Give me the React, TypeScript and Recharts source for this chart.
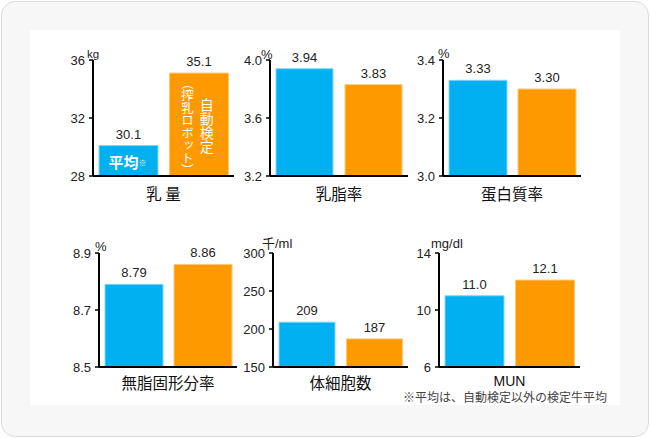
import { Bar, BarChart, Cell, LabelList, XAxis, YAxis } from 'recharts';

const NUM_FONT = '"Liberation Sans", Arial, "Noto Sans CJK JP", sans-serif';
const JP_FONT = '"Noto Sans CJK JP", "Liberation Sans", sans-serif';

// 平均 (blue) vs 自動検定 (orange)
const GROUPS = ['平均', '自動検定'];
const COLORS = ['#00b0f0', '#ff9900'];
const EDGES = ['#7fd7f7', '#ffc873'];

const milkYield = [30.1, 35.1];
const milkFat = [3.94, 3.83];
const milkProtein = [3.33, 3.3];
const solidsNotFat = [8.79, 8.86];
const somaticCells = [209, 187];
const mun = [11.0, 12.1];

const yieldTicks = [28, 32, 36];
const fatTicks = [3.2, 3.6, 4.0];
const proteinTicks = [3.0, 3.2, 3.4];
const snfTicks = [8.5, 8.7, 8.9];
const sccTicks = [150, 200, 250, 300];
const munTicks = [6, 10, 14];

const FOOTNOTE = '※平均は、自動検定以外の検定牛平均';

const YW = 40;
const MT = 30;
const MR = 4;
const XH = 30;

// white text drawn inside the two 乳量 bars
function InsideLabel(props: any) {
  const x = Number(props.x);
  const y = Number(props.y);
  const width = Number(props.width);
  const height = Number(props.height);
  if (props.index === 0) {
    return (
      <text
        x={x + width / 2 - 1}
        y={y + height / 2 + 1}
        textAnchor="middle"
        dominantBaseline="central"
        fill="#fff"
        fontWeight="bold"
        fontSize={15}
        fontFamily={JP_FONT}
      >
        平均<tspan fontSize={8} fontWeight="normal">※</tspan>
      </text>
    );
  }
  return (
    <g fill="#fff" fontFamily={JP_FONT}>
      <text x={x + width * 0.63} y={y + 25} fontSize={14} style={{ writingMode: 'vertical-rl' }}>
        自動検定
      </text>
      <text
        x={x + 18}
        y={y + 10}
        fontSize={12.5}
        style={{ writingMode: 'vertical-rl', fontFeatureSettings: '"vhal"' }}
      >
        （搾乳ロボット）
      </text>
    </g>
  );
}

interface PanelProps {
  title: string;
  unit: string;
  values: number[];
  ticks: number[];
  tickDigits: number;
  valueDigits: number;
  axisX: number;
  top: number;
  bottom: number;
  right: number;
  barSize: number;
  unitDx: number;
  unitDy: number;
  titleDy: number;
  inside?: boolean;
}

function Panel(p: PanelProps) {
  const data = GROUPS.map((g, i) => ({ group: g, v: p.values[i] }));
  const plotW = p.right - p.axisX;
  const plotH = p.bottom - p.top;
  return (
    <div style={{ position: 'absolute', left: p.axisX - YW, top: p.top - MT }}>
      <BarChart
        width={YW + plotW + MR}
        height={MT + plotH + XH}
        data={data}
        margin={{ top: MT, right: MR, left: 0, bottom: 0 }}
        barSize={p.barSize}
      >
        <XAxis
          dataKey="group"
          tick={false}
          tickLine={false}
          height={XH}
          axisLine={{ stroke: '#000', strokeWidth: 2 }}
          label={(lp: any) => {
            const vb = lp.viewBox;
            return (
              <text
                x={vb.x + vb.width / 2}
                y={vb.y + p.titleDy}
                textAnchor="middle"
                dominantBaseline="central"
                fontSize={p.title === 'MUN' ? 14 : 15.5}
                fill="#111"
                fontFamily={p.title === 'MUN' ? NUM_FONT : JP_FONT}
              >
                {p.title}
              </text>
            );
          }}
        />
        <YAxis
          width={YW}
          domain={[p.ticks[0], p.ticks[p.ticks.length - 1]]}
          ticks={p.ticks}
          interval={0}
          allowDataOverflow
          tickFormatter={(v: number) => Number(v).toFixed(p.tickDigits)}
          tickSize={4}
          tickMargin={4}
          tick={{ fill: '#222', fontSize: 13, fontFamily: NUM_FONT }}
          axisLine={{ stroke: '#000', strokeWidth: 2 }}
          tickLine={{ stroke: '#000', strokeWidth: 1.5 }}
          label={(lp: any) => {
            const vb = lp.viewBox;
            return (
              <text
                x={vb.x + vb.width + p.unitDx}
                y={vb.y + p.unitDy}
                dominantBaseline="central"
                fontSize={p.unit === 'kg' ? 11.5 : 13}
                fill="#222"
                fontFamily={NUM_FONT}
              >
                {p.unit}
              </text>
            );
          }}
        />
        <Bar dataKey="v" isAnimationActive={false}>
          {data.map((d, i) => (
            <Cell key={d.group} fill={COLORS[i]} stroke={EDGES[i]} strokeWidth={1} />
          ))}
          <LabelList
            dataKey="v"
            position="top"
            offset={7}
            formatter={(v: any) => Number(v).toFixed(p.valueDigits)}
            fill="#222"
            fontSize={13}
            fontFamily={NUM_FONT}
          />
          {p.inside && <LabelList dataKey="group" content={InsideLabel} />}
        </Bar>
      </BarChart>
    </div>
  );
}

export default function App() {
  return (
    <div style={{ position: 'absolute', left: 0, top: 0, width: 650, height: 438 }}>
      <div
        style={{
          position: 'absolute',
          left: 1,
          top: 1,
          width: 648,
          height: 436,
          boxSizing: 'border-box',
          border: '1px solid #dcdcdc',
          borderRadius: 14,
          background: '#f7f7f7',
        }}
      />
      <div
        style={{ position: 'absolute', left: 30, top: 30, width: 590, height: 375, background: '#fff' }}
      />
      <Panel
        title="乳 量"
        unit="kg"
        values={milkYield}
        ticks={yieldTicks}
        tickDigits={0}
        valueDigits={1}
        axisX={93}
        top={60}
        bottom={176}
        right={234}
        barSize={59}
        unitDx={-6}
        unitDy={-6}
        titleDy={17}
        inside
      />
      <Panel
        title="乳脂率"
        unit="%"
        values={milkFat}
        ticks={fatTicks}
        tickDigits={1}
        valueDigits={2}
        axisX={270}
        top={60}
        bottom={176}
        right={408}
        barSize={57}
        unitDx={-9}
        unitDy={-6}
        titleDy={17}
      />
      <Panel
        title="蛋白質率"
        unit="%"
        values={milkProtein}
        ticks={proteinTicks}
        tickDigits={1}
        valueDigits={2}
        axisX={443}
        top={60}
        bottom={176}
        right={581}
        barSize={58}
        unitDx={-5}
        unitDy={-7}
        titleDy={17}
      />
      <Panel
        title="無脂固形分率"
        unit="%"
        values={solidsNotFat}
        ticks={snfTicks}
        tickDigits={1}
        valueDigits={2}
        axisX={99}
        top={253}
        bottom={367}
        right={237}
        barSize={58}
        unitDx={-4}
        unitDy={-7}
        titleDy={15}
      />
      <Panel
        title="体細胞数"
        unit="千/ml"
        values={somaticCells}
        ticks={sccTicks}
        tickDigits={0}
        valueDigits={0}
        axisX={273}
        top={253}
        bottom={367}
        right={408}
        barSize={56}
        unitDx={-11}
        unitDy={-10}
        titleDy={15}
      />
      <Panel
        title="MUN"
        unit="mg/dl"
        values={mun}
        ticks={munTicks}
        tickDigits={0}
        valueDigits={1}
        axisX={439}
        top={253}
        bottom={367}
        right={580}
        barSize={59}
        unitDx={-8}
        unitDy={-10}
        titleDy={14}
      />
      <div
        style={{
          position: 'absolute',
          left: 403,
          top: 391,
          fontSize: 12,
          lineHeight: '12px',
          color: '#444',
          whiteSpace: 'nowrap',
          fontFamily: JP_FONT,
        }}
      >
        {FOOTNOTE}
      </div>
    </div>
  );
}
